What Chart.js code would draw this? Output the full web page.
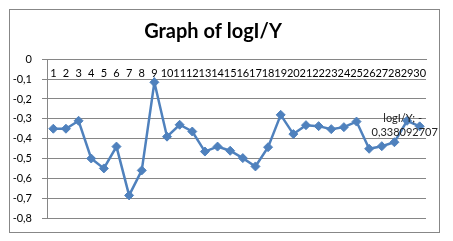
<!DOCTYPE html>
<html>
<head>
<meta charset="utf-8">
<script src="https://cdn.jsdelivr.net/npm/chart.js@4/dist/chart.umd.min.js"></script>
<style>
  html, body { margin: 0; padding: 0; background: #fff; }
  #wrap { position: relative; width: 453px; height: 241px; }
  #marco { position: absolute; left: 9px; top: 9px; width: 429px; height: 222px; border: 1px solid #878787; pointer-events: none; }
</style>
</head>
<body>
<div id="wrap">
  <canvas id="grafica" width="453" height="241"></canvas>
  <div id="marco"></div>
</div>
<script>
// categorias 1..30
const categorias = ['1','2','3','4','5','6','7','8','9','10','11','12','13','14','15',
                    '16','17','18','19','20','21','22','23','24','25','26','27','28','29','30'];

const valoresLogIY = [-0.35, -0.35, -0.31, -0.50, -0.55, -0.44, -0.686, -0.56, -0.116, -0.39,
                      -0.33, -0.364, -0.465, -0.44, -0.461, -0.498, -0.54, -0.443, -0.28, -0.377,
                      -0.332, -0.337, -0.352, -0.342, -0.314, -0.451, -0.438, -0.418, -0.31, -0.338092707];

const ticksY = [0, -0.1, -0.2, -0.3, -0.4, -0.5, -0.6, -0.7, -0.8];

const azul = '#4F81BD';
const gris = '#868686';

function formatoComa(v) {
    const r = Math.round(v * 10) / 10;
    if (r === 0) return '0';
    return r.toFixed(1).replace('.', ',');
}

// etiqueta del ultimo punto, como la de Excel
const etiquetaUltimo = {
    id: 'etiquetaUltimo',
    afterDatasetsDraw(chart) {
        const meta = chart.getDatasetMeta(0);
        const i = valoresLogIY.length - 1;
        const p = meta.data[i];
        const ctx = chart.ctx;
        const v = valoresLogIY[i];
        ctx.save();
        ctx.font = '11px Lato';
        ctx.fillStyle = '#222';
        ctx.textAlign = 'center';
        ctx.textBaseline = 'middle';
        ctx.fillText('logI/Y; ' + (v < 0 ? '-' : ''), p.x - 17, p.y - 8);
        ctx.fillText(String(Math.abs(v)).replace('.', ','), p.x - 15, p.y + 6);
        ctx.restore();
    }
};

new Chart(document.getElementById('grafica'), {
    type: 'line',
    data: {
        labels: categorias,
        datasets: [{
            label: 'logI/Y',
            data: valoresLogIY,
            borderColor: azul,
            backgroundColor: azul,
            borderWidth: 2.5,
            pointStyle: 'rectRot',
            pointRadius: 4.5,
            pointBackgroundColor: azul,
            pointBorderColor: azul,
            pointBorderWidth: 1,
            tension: 0,
            fill: false
        }]
    },
    options: {
        responsive: false,
        animation: false,
        layout: { padding: { left: 0, right: 27, bottom: 23, top: 0 } },
        plugins: {
            legend: { display: false },
            tooltip: { enabled: false },
            title: {
                display: true,
                text: 'Graph of logI/Y',
                color: '#000',
                font: { family: 'Lato', size: 20, weight: 'bold' },
                padding: { top: 19.5, bottom: 15.8 }
            }
        },
        scales: {
            x: {
                position: { y: 0 },
                offset: true,
                grid: { display: false, drawTicks: false },
                border: { display: true, color: gris },
                ticks: {
                    autoSkip: false,
                    maxRotation: 0,
                    minRotation: 0,
                    padding: 8,
                    color: '#000',
                    font: { family: 'Lato', size: 11 }
                }
            },
            y: {
                min: -0.8,
                max: 0,
                afterFit(scale) { scale.width = 47; },
                afterBuildTicks(scale) { scale.ticks = ticksY.map(v => ({ value: v })); },
                grid: { color: gris, tickLength: 5, drawTicks: true },
                border: { display: true, color: gris },
                ticks: {
                    padding: 10,
                    color: '#000',
                    font: { family: 'Lato', size: 11 },
                    callback: v => formatoComa(v)
                }
            }
        }
    },
    plugins: [etiquetaUltimo]
});
</script>
</body>
</html>
